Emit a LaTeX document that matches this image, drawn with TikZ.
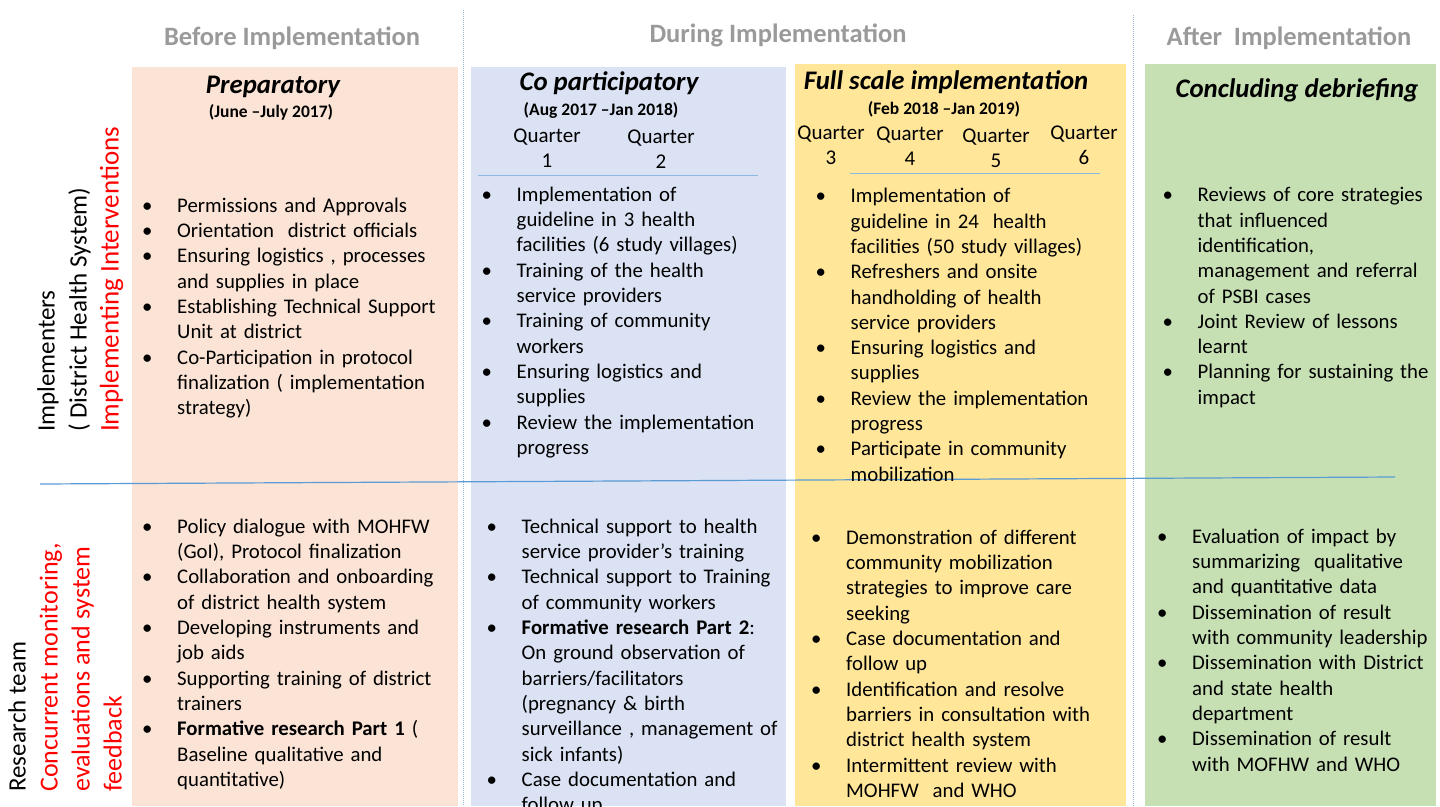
\documentclass[tikz,border=0pt]{standalone}
\usepackage{fontspec}
\setmainfont{Carlito}
\usepackage{tikz}
\definecolor{peach}{HTML}{FBE3D5}
\definecolor{paleblue}{HTML}{DAE2F3}
\definecolor{paleyellow}{HTML}{FFE699}
\definecolor{palegreen}{HTML}{C6E0B4}
\definecolor{phasegray}{HTML}{9A9A9A}
\definecolor{rulecol}{HTML}{5B9BD5}
\definecolor{dotcol}{HTML}{9DB8D2}
\newcommand{\bpoint}[1]{\par\hangindent=35pt\hangafter=1\noindent\makebox[35pt][l]{\textbullet}#1\par}

\begin{document}
\begin{tikzpicture}[x=1pt,y=-1pt,
	phase/.style={font=\fontsize{26.5}{32}\selectfont\bfseries, text=phasegray, inner sep=0pt},
	stage/.style={font=\fontsize{26.8}{31}\selectfont\bfseries\itshape, inner sep=0pt},
	period/.style={font=\fontsize{17.5}{21}\selectfont\bfseries, inner sep=0pt},
	quarter/.style={font=\fontsize{21}{25}\selectfont, align=center, inner sep=0pt},
	items/.style={font=\fontsize{20.8}{25.3}\selectfont, text width=330pt, align=left, anchor=base west, inner sep=0pt},
	actor/.style={font=\fontsize{25}{32}\selectfont, rotate=90, align=left, anchor=north west, inner sep=0pt}]
		\useasboundingbox (0,0) rectangle (1440,806);
		\clip (0,0) rectangle (1440,806);
		
		% Panels
		\fill[peach] (132,67) rectangle (458,806);
		\fill[paleblue] (471,67) rectangle (786,806);
		\fill[paleyellow] (795,64) rectangle (1126,806);
		\fill[palegreen] (1145,64) rectangle (1436,806);
		
		% Lines
		\draw[dotcol, dash pattern=on 1pt off 1pt] (463,10) -- (463,806);
		\draw[dotcol, dash pattern=on 1pt off 1pt] (1133,15) -- (1133,806);
		\draw[rulecol!70, line width=1pt] (478,175) -- (758,175);
		\draw[rulecol!70, line width=1pt] (850,173) -- (1100,173);
		\draw[rulecol, line width=1.2pt] (40,484) -- (1395,477);
		
		% Phases
		\node[phase] (before) at (292,38) {Before Implementation};
		\node[phase] (during) at (778,35) {During Implementation};
		\node[phase] (after) at (1289,38) {After\ \ Implementation};
		
		% Stages
		\node[stage] (prep) at (273,87) {Preparatory};
		\node[period] (prepT) at (271,112) {(June --July 2017)};
		\node[stage] (copart) at (609,83) {Co participatory};
		\node[period] (copartT) at (601,110) {(Aug 2017 --Jan 2018)};
		\node[stage] (full) at (946,82) {Full scale implementation};
		\node[period] (fullT) at (944,109) {(Feb 2018 --Jan 2019)};
		\node[stage] (concl) at (1297,90) {Concluding debriefing};
		
		% Quarters
		\node[quarter] (q1) at (547,148) {Quarter\\1};
		\node[quarter] (q2) at (661,149) {Quarter\\2};
		\node[quarter] (q3) at (831,145) {Quarter\\3};
		\node[quarter] (q4) at (910,146) {Quarter\\4};
		\node[quarter] (q5) at (996,148) {Quarter\\5};
		\node[quarter] (q6) at (1084,145) {Quarter\\6};
		
		% Actors
		\node[actor] (impl) at (37,432) {Implementers\\( District Health System)\\\textcolor{red}{\fontsize{27}{32}\selectfont Implementing Interventions}};
		\node[actor] (research) at (8,792) {Research team\\\textcolor{red}{\fontsize{26}{32}\selectfont Concurrent monitoring,}\\\textcolor{red}{\fontsize{26}{32}\selectfont evaluations and system}\\\textcolor{red}{\fontsize{26}{32}\selectfont feedback}};
		
		% Implementers row
		\node[items] (prepA) at (142,187) {%
			\bpoint{Permissions and Approvals}
			\bpoint{Orientation\ \ district officials}
			\bpoint{Ensuring logistics , processes\newline and supplies in place}
			\bpoint{Establishing Technical Support\newline Unit at district}
			\bpoint{Co-Participation in protocol\newline finalization ( implementation\newline strategy)}};
		\node[items] (copartA) at (481.5,176) {%
			\bpoint{Implementation of\newline guideline in 3 health\newline facilities (6 study villages)}
			\bpoint{Training of the health\newline service providers}
			\bpoint{Training of community\newline workers}
			\bpoint{Ensuring logistics and\newline supplies}
			\bpoint{Review the implementation\newline progress}};
		\node[items] (fullA) at (815.5,177.5) {%
			\bpoint{Implementation of\newline guideline in 24\ \ health\newline facilities (50 study villages)}
			\bpoint{Refreshers and onsite\newline handholding of health\newline service providers}
			\bpoint{Ensuring logistics and\newline supplies}
			\bpoint{Review the implementation\newline progress}
			\bpoint{Participate in community\newline mobilization}};
		\node[items] (conclA) at (1162.5,176.5) {%
			\bpoint{Reviews of core strategies\newline that influenced\newline identification,\newline management and referral\newline of PSBI cases}
			\bpoint{Joint Review of lessons\newline learnt}
			\bpoint{Planning for sustaining the\newline impact}};
		
		% Research team row
		\node[items] (prepB) at (142,508) {%
			\bpoint{Policy dialogue with MOHFW\newline (GoI), Protocol finalization}
			\bpoint{Collaboration and onboarding\newline of district health system}
			\bpoint{Developing instruments and\newline job aids}
			\bpoint{Supporting training of district\newline trainers}
			\bpoint{\textbf{Formative research Part 1} (\newline Baseline qualitative and\newline quantitative)}};
		\node[items] (copartB) at (486.5,508) {%
			\bpoint{Technical support to health\newline service provider's training}
			\bpoint{Technical support to Training\newline of community workers}
			\bpoint{\textbf{Formative research Part 2}:\newline On ground observation of\newline barriers/facilitators\newline (pregnancy \& birth\newline surveillance , management of\newline sick infants)}
			\bpoint{Case documentation and\newline follow up}};
		\node[items] (fullB) at (811,519) {%
			\bpoint{Demonstration of different\newline community mobilization\newline strategies to improve care\newline seeking}
			\bpoint{Case documentation and\newline follow up}
			\bpoint{Identification and resolve\newline barriers in consultation with\newline district health system}
			\bpoint{Intermittent review with\newline MOHFW\ \ and WHO}};
		\node[items] (conclB) at (1157,518) {%
			\bpoint{Evaluation of impact by\newline summarizing\ \ qualitative\newline and quantitative data}
			\bpoint{Dissemination of result\newline with community leadership}
			\bpoint{Dissemination with District\newline and state health\newline department}
			\bpoint{Dissemination of result\newline with MOFHW and WHO}};
	\end{tikzpicture}
\end{document}
